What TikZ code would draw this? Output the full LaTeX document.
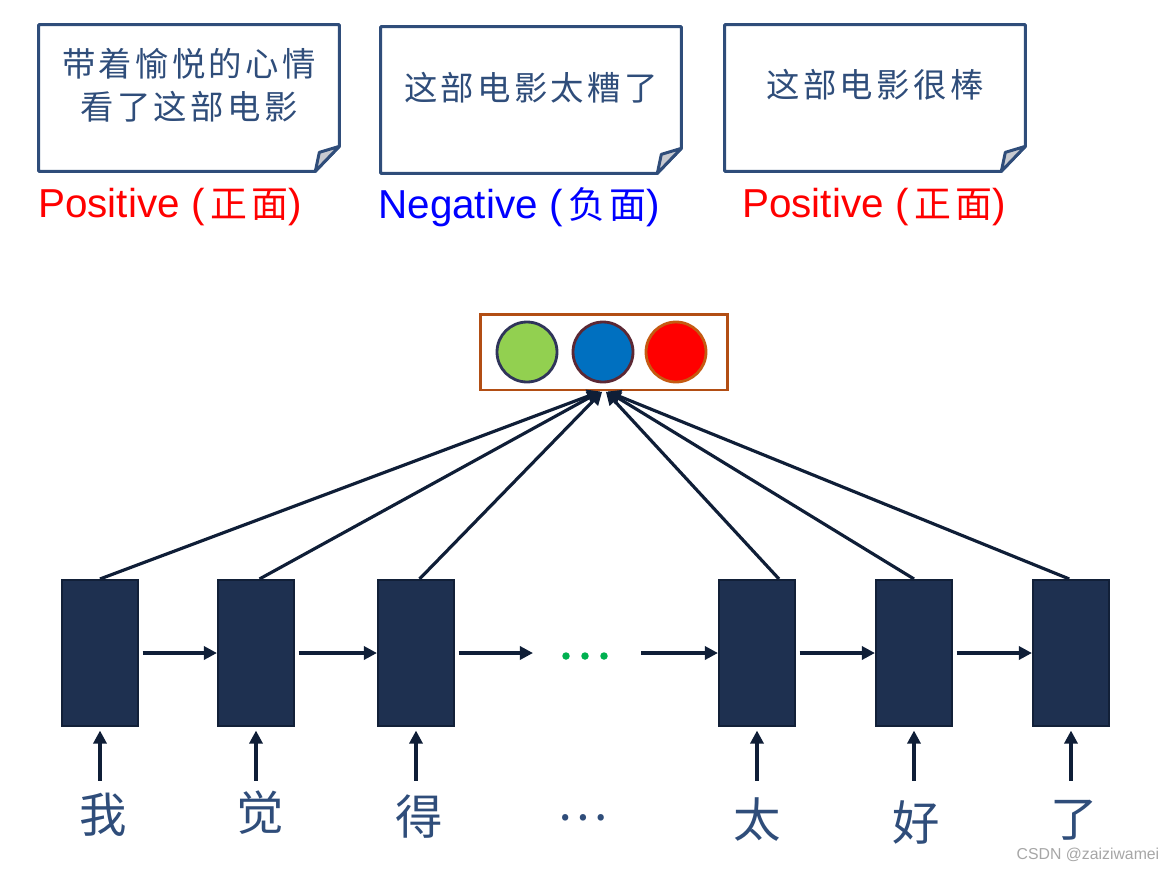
\documentclass[tikz,border=0pt]{standalone}
\usepackage{fontspec}
\setmainfont{Liberation Sans}
\newfontfamily\cjk{Noto Sans CJK SC}
\newfontfamily\cjkwide[LetterSpace=10]{Noto Sans CJK SC}
\usetikzlibrary{arrows.meta,positioning,calc}

\definecolor{notecol}{RGB}{47,77,122}
\definecolor{foldgray}{RGB}{200,202,208}
\definecolor{cellfill}{RGB}{30,48,80}
\definecolor{celldraw}{RGB}{18,32,56}
\definecolor{arrowcol}{RGB}{15,30,55}
\definecolor{boxcol}{RGB}{178,78,20}
\definecolor{dotgreen}{RGB}{0,176,80}
\definecolor{ballgreen}{RGB}{146,208,80}
\definecolor{ballblue}{RGB}{0,112,192}
\definecolor{edgegreen}{RGB}{47,52,90}
\definecolor{edgeblue}{RGB}{92,40,52}
\definecolor{edgered}{RGB}{197,90,17}

\begin{document}
\begin{tikzpicture}[x=0.02cm, y=-0.02cm,
    note/.style={rectangle, minimum width=6cm, minimum height=2.92cm, inner sep=0pt},
    notetext/.style={text=notecol, align=center, font=\cjkwide\fontsize{19}{24.5}\selectfont},
    tag/.style={font=\fontsize{23}{28}\selectfont},
    cell/.style={rectangle, draw=celldraw, line width=1.2pt, fill=cellfill, minimum width=1.52cm, minimum height=2.92cm},
    ball/.style={circle, line width=1.6pt, minimum size=1.2cm, inner sep=0pt},
    arrow/.style={-{Triangle[length=7.5pt,width=7.5pt]}, line width=1.8pt, draw=arrowcol},
    word/.style={text=notecol, font=\cjk\fontsize{27}{27}\selectfont, inner sep=7pt}
  ]
  \useasboundingbox (0,0) rectangle (1171,870);

  % Notes
  \node[note] (n1) at (189,98) {};
  \node[note] (n2) at (531,100) {};
  \node[note] (n3) at (875,98) {};
  \foreach \n in {n1,n2,n3}{
    \draw[notecol, line width=1.7pt, line join=round] (\n.north west) -- (\n.north east)
      -- ($(\n.south east)+(0,-25)$) -- ($(\n.south east)+(-24,0)$) -- (\n.south west) -- cycle;
    \filldraw[draw=notecol, fill=foldgray, line width=1.7pt, line join=round] ($(\n.south east)+(-24,0)$)
      -- ($(\n.south east)+(-20,-19)$) -- ($(\n.south east)+(0,-25)$) -- cycle;
  }
  \node[notetext] (t1) at ($(n1.center)+(0,-13)$) {带着愉悦的心情\\看了这部电影};
  \node[notetext] (t2) at ($(n2.center)+(0,-12)$) {这部电影太糟了};
  \node[notetext] (t3) at ($(n3.center)+(0,-13)$) {这部电影很棒};

  % Labels
  \node[tag, text=red] (l1) at (170,207) {Positive ({\cjkwide\fontsize{21}{28}\selectfont\,正面})};
  \node[tag, text=blue] (l2) at (519,207) {Negative ({\cjkwide\fontsize{21}{28}\selectfont\,负面})};
  \node[tag, text=red] (l3) at (874,207) {Positive ({\cjkwide\fontsize{21}{28}\selectfont\,正面})};

  % Output
  \node[rectangle, draw=boxcol, line width=1.7pt, minimum width=4.96cm, minimum height=1.52cm] (out) at (604,352) {};
  \node[ball, draw=edgegreen, fill=ballgreen] (b1) at (527,352) {};
  \node[ball, draw=edgeblue, fill=ballblue] (b2) at (603,352) {};
  \node[ball, draw=edgered, fill=red] (b3) at (676,352) {};

  % Cells
  \node[cell] (c1) at (100,653) {};
  \node[cell] (c2) at (256,653) {};
  \node[cell] (c3) at (416,653) {};
  \node[cell] (c4) at (757,653) {};
  \node[cell] (c5) at (914,653) {};
  \node[cell] (c6) at (1071,653) {};
  \coordinate (d1) at (533,653);
  \coordinate (d2) at (641,653);
  \foreach \x in {566,585,604}
    \fill[dotgreen] (\x,656) circle[radius=0.075cm];

  % Words
  \node[word] (w1) at (103,815) {我};
  \node[word] (w2) at (260,813) {觉};
  \node[word] (w3) at (419,817) {得};
  \node[word] (w4) at (583,818) {…};
  \node[word] (w5) at (757,820) {太};
  \node[word] (w6) at (916,822) {好};
  \node[word] (w7) at (1074,820) {了};

  % Arrows
  \draw[arrow, shorten <=2pt] (c1.east) -- (c2.west);
  \draw[arrow, shorten <=2pt] (c2.east) -- (c3.west);
  \draw[arrow, shorten <=2pt] (c3.east) -- (d1);
  \draw[arrow] (d2) -- (c4.west);
  \draw[arrow, shorten <=2pt] (c4.east) -- (c5.west);
  \draw[arrow, shorten <=2pt] (c5.east) -- (c6.west);
  \foreach \w/\c in {w1/c1,w2/c2,w3/c3,w5/c4,w6/c5,w7/c6}
    \draw[arrow] (\c.south |- w1.north) -- ([yshift=-2pt]\c.south);
  \draw[arrow] (c1.north) -- ([xshift=-2pt]out.south);
  \draw[arrow] ([xshift=2pt]c2.north) -- ([xshift=-2pt]out.south);
  \draw[arrow] ([xshift=2pt]c3.north) -- ([xshift=-1pt]out.south);
  \draw[arrow] ([xshift=0.44cm]c4.north) -- ([xshift=1pt]out.south);
  \draw[arrow] (c5.north) -- ([xshift=2pt]out.south);
  \draw[arrow] ([xshift=-1pt]c6.north) -- ([xshift=2pt]out.south);

  \node[text=black!35, font=\fontsize{9}{10}\selectfont] (mark) at (1088,855) {CSDN @zaiziwamei};
\end{tikzpicture}
\end{document}
